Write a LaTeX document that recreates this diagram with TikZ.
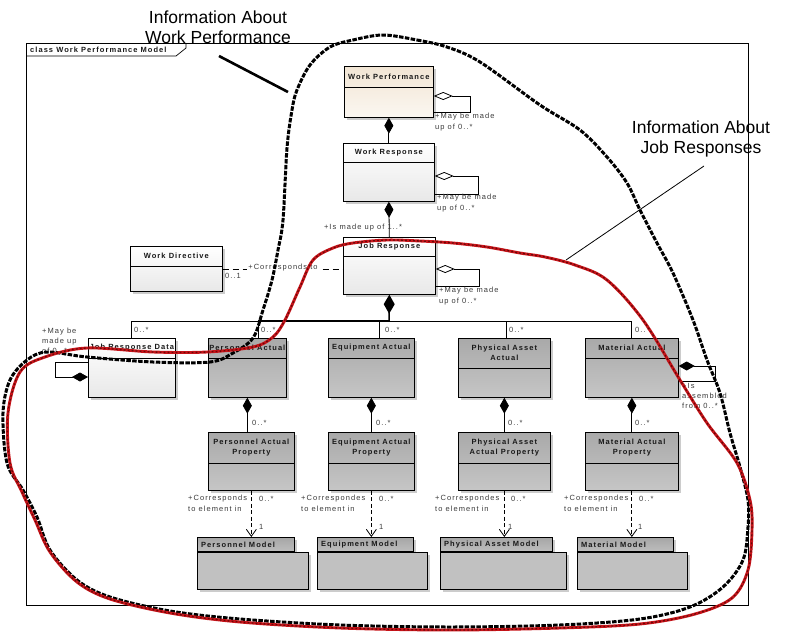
\documentclass[tikz,border=0pt]{standalone}
\usepackage{fontspec}
\setmainfont{Liberation Sans}
\newfontfamily\umlf[LetterSpace=14]{Liberation Sans}
\usetikzlibrary{arrows.meta,shadows,calc}
\definecolor{wpA}{HTML}{F1E5D4}
\definecolor{wpB}{HTML}{FBF7F1}
\definecolor{gA}{HTML}{A9A9A9}
\definecolor{gB}{HTML}{C6C6C6}
\definecolor{pkA}{HTML}{A6A6A6}
\definecolor{pkB}{HTML}{BDBDBD}
\definecolor{pkbody}{HTML}{C1C1C1}
\definecolor{redc}{HTML}{C8141A}
\definecolor{redd}{HTML}{6A0808}
\definecolor{lblc}{HTML}{3A3A3A}
\tikzset{
  box/.style={draw=black, line width=0.7pt, inner sep=0pt, anchor=north west,
    drop shadow={shadow xshift=2.5pt, shadow yshift=-2.5pt, fill=black!20, opacity=1}},
  whitebox/.style={box, top color=white, bottom color=black!9},
  beigebox/.style={box, top color=wpA, bottom color=wpB},
  graybox/.style={box, top color=gA, bottom color=gB},
  pkgtab/.style={box, top color=pkA, bottom color=pkB},
  pkgbody/.style={box, fill=pkbody},
  ttl/.style={font=\umlf\bfseries\fontsize{7.5}{9.5}\selectfont, align=center, inner sep=0pt, text=black!90},
  lbl/.style={font=\umlf\fontsize{7.5}{10.5}\selectfont, align=left, inner sep=0pt, text=lblc},
  conn/.style={line width=0.8pt},
  comp/.style={conn, {Diamond[length=16pt,width=9pt]}-},
  agg/.style={conn, {Diamond[open,length=19pt,width=8pt,fill=white]}-},
  dep/.style={conn, dash pattern=on 4pt off 2.5pt, -{Straight Barb[length=7pt,width=10pt]}},
  blackcurve/.style={line width=3pt, black, dash pattern=on 4.5pt off 1.4pt},
  redcurve/.style={line width=2.9pt, redc},
  redover/.style={line width=1.3pt, redd, dash pattern=on 1.8pt off 2.2pt},
  ann/.style={font=\fontsize{17.5}{20.5}\selectfont, align=center, inner sep=0pt}
}
\newcommand\umlclass[8]{%
  \node[#7, minimum width=#4pt, minimum height=#5pt] (#1) at (#2,#3) {};
  \draw[line width=0.7pt] ($(#1.north west)+(0pt,-#6pt)$) -- ($(#1.north east)+(0pt,-#6pt)$);
  \node[ttl] (#1-t) at ($(#1.north)+(0pt,-#6pt/2)$) {#8};
}
\newcommand\umlpkg[6]{%
  \node[pkgtab, minimum width=#4pt, minimum height=14pt] (#1t) at (#2,#3) {};
  \node[pkgbody, minimum width=#5pt, minimum height=37pt] (#1) at (#1t.south west) {};
  \node[ttl, anchor=west] (#1-l) at ($(#1t.west)+(4pt,0pt)$) {#6};
}
\begin{document}
\begin{tikzpicture}[x=1pt,y=-1pt]
\useasboundingbox (0,0) rectangle (788,635);
\fill[white] (0,0) rectangle (788,635);
% frame
\node[draw, line width=0.8pt, minimum width=722pt, minimum height=562pt, anchor=north west, inner sep=0pt] (frame) at (26,43) {};
\draw[line width=0.7pt] ($(frame.north west)+(0pt,-13pt)$) -- ++(150pt,0pt) -- ++(10pt,8pt) -- ++(0pt,5pt);
\node[ttl, anchor=west] (frame-t) at (30,49.5) {class Work Performance Model};
% classes
\umlclass{wp}{344}{66}{89}{51}{21}{beigebox}{Work Performance}
\umlclass{wr}{343}{143}{91}{58}{19}{whitebox}{Work Response}
\umlclass{jr}{343}{237}{92}{57}{19}{whitebox}{Job Response}
\umlclass{wd}{130}{246}{92}{45}{20}{whitebox}{Work Directive}
\umlclass{jrd}{88}{338}{87}{59}{20}{whitebox}{Job Response Data}
\umlclass{pa}{208}{338}{78}{59}{20}{graybox}{Personnel Actual}
\umlclass{ea}{328}{338}{86}{59}{20}{graybox}{Equipment Actual}
\umlclass{paa}{458}{338}{92}{59}{30}{graybox}{Physical Asset\\Actual}
\umlclass{ma}{585}{338}{93}{59}{20}{graybox}{Material Actual}
\umlclass{pap}{208}{432}{86}{58}{31}{graybox}{Personnel Actual\\Property}
\umlclass{eap}{328}{432}{86}{58}{31}{graybox}{Equipment Actual\\Property}
\umlclass{paap}{458}{432}{92}{58}{31}{graybox}{Physical Asset\\Actual Property}
\umlclass{map}{585}{432}{93}{58}{31}{graybox}{Material Actual\\Property}
% packages
\umlpkg{pm}{197}{537}{97}{111}{Personnel Model}
\umlpkg{em}{317}{537}{96}{110}{Equipment Model}
\umlpkg{pam}{440}{537}{112}{126}{Physical Asset Model}
\umlpkg{mm}{577}{537}{96}{110}{Material Model}
% self loops
\draw[agg] (wp.east |- 0,96) -- (470,96) -- (470,112) -- (wp.east |- 0,112);
\node[lbl, anchor=north west] (wp-l) at (435,113) {+May be made\\up of 0..*};
\draw[agg] (wr.east |- 0,176) -- (478,176) -- (478,194) -- (wr.east |- 0,194);
\node[lbl, anchor=north west] (wr-l) at (437,194) {+May be made\\up of 0..*};
\draw[agg] (jr.east |- 0,269) -- (479,269) -- (479,286) -- (jr.east |- 0,286);
\node[lbl, anchor=north west] (jr-l) at (439,287) {+May be made\\up of 0..*};
\draw[comp] (jrd.west |- 0,377) -- (55,377) -- (55,362) -- (jrd.west |- 0,362);
\node[lbl, anchor=north west, font=\umlf\fontsize{7.5}{10}\selectfont] (jrd-l) at (42,328) {+May be\\made up\\of 0..*};
\draw[comp] (ma.east |- 0,366) -- (715,366) -- (715,381) -- (ma.east |- 0,381);
\node[lbl, anchor=north west, font=\umlf\fontsize{7.5}{10}\selectfont] (ma-l) at (682,383) {+Is\\assembled\\from 0..*};
% compositions top
\draw[comp] (wp.south) -- (wr.north);
\draw[comp] (wr.south) -- (jr.north);
\node[lbl] (jr-m) at (363,228) {+Is made up of 1..*};
% work directive
\draw[conn, dash pattern=on 6pt off 4pt] (wd.east |- 0,269) -- (jr.west |- 0,269);
\node[lbl, fill=white, inner xsep=1pt] (wd-c) at (283,268) {+Corresponds to};
\node[lbl, anchor=west] (wd-m) at (225,276) {0..1};
% bus
\coordinate (bus) at (389,321);
\draw[{Diamond[length=19pt,width=11pt]}-, line width=1.5pt] (jr.south) -- (bus);
\draw[line width=1.6pt] (bus) -- (258,321);
\draw[conn] (bus) -| (jrd.north);
\draw[conn] (bus) -| ($(pa.north)+(11pt,0pt)$);
\draw[conn] (bus) -| ($(ea.north)+(8pt,0pt)$);
\draw[conn] (bus) -| ($(paa.north)+(2pt,0pt)$);
\draw[conn] (bus) -| (ma.north);
\node[lbl, anchor=west] at (134,330) {0..*};
\node[lbl, anchor=west] at (261,330) {0..*};
\node[lbl, anchor=west] at (385,330) {0..*};
\node[lbl, anchor=west] at (509,330) {0..*};
\node[lbl, anchor=west] at (635,330) {0..*};
% actual -> property
\draw[comp] (pa.south) -- (pa.south |- pap.north);
\draw[comp] (ea.south) -- (ea.south |- eap.north);
\draw[comp] (paa.south) -- (paa.south |- paap.north);
\draw[comp] (ma.south) -- (ma.south |- map.north);
\node[lbl, anchor=west] at (252,423) {0..*};
\node[lbl, anchor=west] at (376,423) {0..*};
\node[lbl, anchor=west] at (508,423) {0..*};
\node[lbl, anchor=west] at (635,423) {0..*};
% dependencies
\draw[dep] (pap.south) -- (pap.south |- pmt.north);
\draw[dep] (eap.south) -- (eap.south |- emt.north);
\draw[dep] (paap.south) -- (paap.south |- pamt.north);
\draw[dep] (map.south) -- (map.south |- mmt.north);
\node[lbl, anchor=north west] at (188,495) {+Corresponds\\to element in};
\node[lbl, anchor=north west] at (301,495) {+Correspondes\\to element in};
\node[lbl, anchor=north west] at (435,495) {+Correspondes\\to element in};
\node[lbl, anchor=north west] at (564,495) {+Correspondes\\to element in};
\foreach \x in {259,379,511,639} \node[lbl, anchor=west] at (\x,499) {0..*};
\foreach \x in {259,379,508,638} \node[lbl, anchor=west] at (\x,527) {1};
% annotations
\node[ann] (ann1) at (218,27) {Information About\\Work Performance};
\node[ann] (ann2) at (701,139) {Information About\\Job Responses};
\coordinate (p1a) at (219,56);
\coordinate (p1b) at (288,92);
\coordinate (p2a) at (704,166);
\coordinate (p2b) at (566,260);
\draw[line width=2.6pt] (p1a) -- (p1b);
\draw[line width=0.8pt] (p2a) -- (p2b);
% curves
\draw[blackcurve] plot[smooth cycle, tension=0.55] coordinates {
(383,35) (417,40) (447,47) (480,62) (540,105) (580,130) (607,157) (627,183) (640,210) (657,243) (673,273) (693,320) (707,360) (720,393) (730,433) (740,467) (748,500) (748,527) (743,560) (723,587) (690,607) (640,619) (560,625) (450,627) (340,625) (240,619) (170,611) (110,597) (77,580) (50,550) (37,517) (23,490) (7,463) (3,413) (10,380) (27,360) (47,352) (87,357) (153,362) (210,362) (233,353) (253,338) (263,310) (272,280) (278,250) (283,220) (287,148) (292,110) (297,90) (310,65) (330,47) (353,40)};
\draw[redcurve] plot[smooth cycle, tension=0.55] coordinates {
(387,240) (420,241) (453,243) (487,247) (520,253) (545,257) (575,265) (607,280) (643,320) (680,380) (707,423) (737,463) (750,500) (752,530) (748,570) (732,598) (695,614) (640,624) (560,628) (450,630) (340,628) (240,622) (170,613) (110,599) (77,582) (50,552) (35,520) (22,492) (10,463) (8,413) (20,372) (45,357) (87,348) (153,352) (207,352) (253,347) (273,337) (285,320) (300,287) (313,260) (333,248) (353,243)};
\draw[redover] plot[smooth cycle, tension=0.55] coordinates {
(387,240) (420,241) (453,243) (487,247) (520,253) (545,257) (575,265) (607,280) (643,320) (680,380) (707,423) (737,463) (750,500) (752,530) (748,570) (732,598) (695,614) (640,624) (560,628) (450,630) (340,628) (240,622) (170,613) (110,599) (77,582) (50,552) (35,520) (22,492) (10,463) (8,413) (20,372) (45,357) (87,348) (153,352) (207,352) (253,347) (273,337) (285,320) (300,287) (313,260) (333,248) (353,243)};
\end{tikzpicture}
\end{document}
